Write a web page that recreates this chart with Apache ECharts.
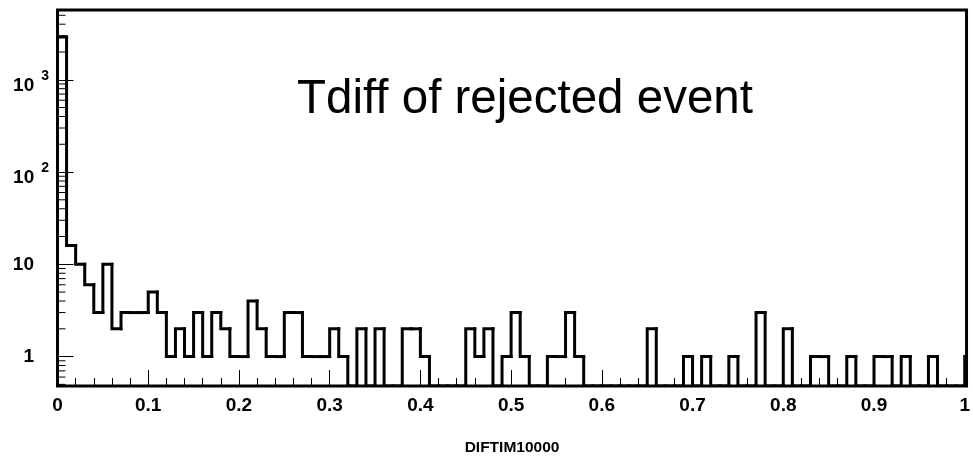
<!DOCTYPE html>
<html>
<head>
<meta charset="utf-8">
<script src="https://cdn.jsdelivr.net/npm/echarts@6/dist/echarts.min.js"></script>
<style>
  html, body { margin: 0; padding: 0; background: #fff; }
  #chart { width: 973px; height: 466px; }
</style>
</head>
<body>
<div id="chart"></div>
<script>
// Histogram of DIFTIM10000: 0.01-wide bins starting at 0
const binStart = 0;
const binWidth = 0.01;
const counts = [
  2900, 16, 10, 6, 3, 10, 2, 3, 3, 3,
  5, 3, 1, 2, 1, 3, 1, 3, 2, 1,
  1, 4, 2, 1, 1, 3, 3, 1, 1, 1,
  2, 1, 0, 2, 0, 2, 0, 0, 2, 2,
  1, 0, 0, 0, 0, 2, 1, 2, 0, 1,
  3, 1, 0, 0, 1, 1, 3, 1, 0, 0,
  0, 0, 0, 0, 0, 2, 0, 0, 0, 1,
  0, 1, 0, 0, 1, 0, 0, 3, 0, 0,
  2, 0, 0, 1, 1, 0, 0, 1, 0, 0,
  1, 1, 0, 1, 0, 0, 1, 0, 0, 0,
  1
];

// Axis labels
const xTickLabels = ['0', '0.1', '0.2', '0.3', '0.4', '0.5', '0.6', '0.7', '0.8', '0.9', '1'];
const yTickBase = ['1', '10', '10', '10'];
const yTickExp = ['', '', '2', '3'];
const yMinorTicks = [
  0.5, 0.6, 0.7, 0.8, 0.9,
  2, 3, 4, 5, 6, 7, 8, 9,
  20, 30, 40, 50, 60, 70, 80, 90,
  200, 300, 400, 500, 600, 700, 800, 900,
  2000, 3000, 4000, 5000
];

const X_MIN = 0, X_MAX = 1.002;
const Y_MIN = 0.48, Y_MAX = 5700;

const FONT = '"Liberation Sans", Arial, Helvetica, sans-serif';
const bins = counts.map((c, i) => [binStart + i * binWidth, binStart + (i + 1) * binWidth, c]);

const chart = echarts.init(document.getElementById('chart'), null, { renderer: 'canvas' });

chart.setOption({
  animation: false,
  backgroundColor: '#ffffff',
  grid: {
    left: 57.5, top: 10, right: 1, bottom: 80,
    show: true, borderColor: '#000', borderWidth: 3, backgroundColor: 'transparent'
  },
  xAxis: {
    type: 'value',
    min: X_MIN, max: X_MAX, interval: 0.1,
    axisLine: { show: false },
    axisTick: { show: true, inside: true, length: 16, lineStyle: { color: '#000', width: 1 } },
    minorTick: { show: true, splitNumber: 5, length: 8, lineStyle: { color: '#000', width: 1 } },
    splitLine: { show: false },
    axisLabel: {
      margin: 10, color: '#000', fontFamily: FONT, fontSize: 19, fontWeight: 'bold',
      showMaxLabel: false,
      formatter: v => {
        const i = Math.round(v * 10);
        return (Math.abs(v * 10 - i) < 1e-6 && i >= 0 && i < xTickLabels.length) ? xTickLabels[i] : '';
      }
    },
    name: 'DIFTIM10000',
    nameLocation: 'middle',
    nameGap: 54,
    nameTextStyle: { color: '#000', fontFamily: FONT, fontSize: 15.5, fontWeight: 'bold' }
  },
  yAxis: {
    type: 'log', logBase: 10,
    min: Y_MIN, max: Y_MAX,
    axisLine: { show: false },
    axisTick: { show: true, inside: true, length: 16, lineStyle: { color: '#000', width: 1 } },
    splitLine: { show: false },
    axisLabel: {
      margin: 8.5, color: '#000', fontFamily: FONT, fontSize: 19, fontWeight: 'bold',
      formatter: v => {
        const l = Math.log10(v);
        const e = Math.round(l);
        if (Math.abs(l - e) > 1e-6 || e < 0 || e >= yTickBase.length) return '';
        if (yTickExp[e]) return '{b|' + yTickBase[e] + '}{s|' + yTickExp[e] + '}';
        return '{p|' + yTickBase[e] + '}';
      },
      rich: {
        p: { fontFamily: FONT, fontSize: 19, fontWeight: 'bold', color: '#000', padding: [0, 15, 0, 0] },
        b: { fontFamily: FONT, fontSize: 19, fontWeight: 'bold', color: '#000', lineHeight: 19, padding: [12, 0, 0, 0] },
        s: { fontFamily: FONT, fontSize: 14, fontWeight: 'bold', color: '#000', lineHeight: 15, padding: [0, 0, 8, 7] }
      }
    }
  },
  graphic: [{
    type: 'text',
    x: 297, y: 99.5,
    style: {
      text: 'Tdiff of rejected event',
      font: '47.5px ' + FONT,
      fill: '#000',
      verticalAlign: 'middle',
      textVerticalAlign: 'middle'
    }
  }],
  series: [
    {
      // histogram outline, zero bins resting on the frame floor
      type: 'custom',
      clip: true,
      silent: true,
      data: bins,
      encode: { x: [0, 1], y: 2 },
      renderItem: (params, api) => {
        const i = params.dataIndex;
        const lo = api.value(0), hi = api.value(1);
        const v = Math.max(api.value(2), Y_MIN);
        const prev = i > 0 ? Math.max(counts[i - 1], Y_MIN) : Y_MIN;
        const pts = [api.coord([lo, prev]), api.coord([lo, v]), api.coord([hi, v])];
        if (i === counts.length - 1) pts.push(api.coord([hi, Y_MIN]));
        return {
          type: 'polyline',
          shape: { points: pts },
          style: { stroke: '#000', lineWidth: 3, fill: null, lineJoin: 'miter', lineCap: 'square' }
        };
      }
    },
    {
      // minor ticks of the log axis (2..9 per decade)
      type: 'custom',
      silent: true,
      clip: false,
      data: yMinorTicks.map(v => [X_MIN, v]),
      encode: { x: 0, y: 1 },
      renderItem: (params, api) => {
        const p = api.coord([api.value(0), api.value(1)]);
        return {
          type: 'line',
          shape: { x1: p[0], y1: p[1], x2: p[0] + 8, y2: p[1] },
          style: { stroke: '#000', lineWidth: 1 }
        };
      }
    }
  ]
});
</script>
</body>
</html>
